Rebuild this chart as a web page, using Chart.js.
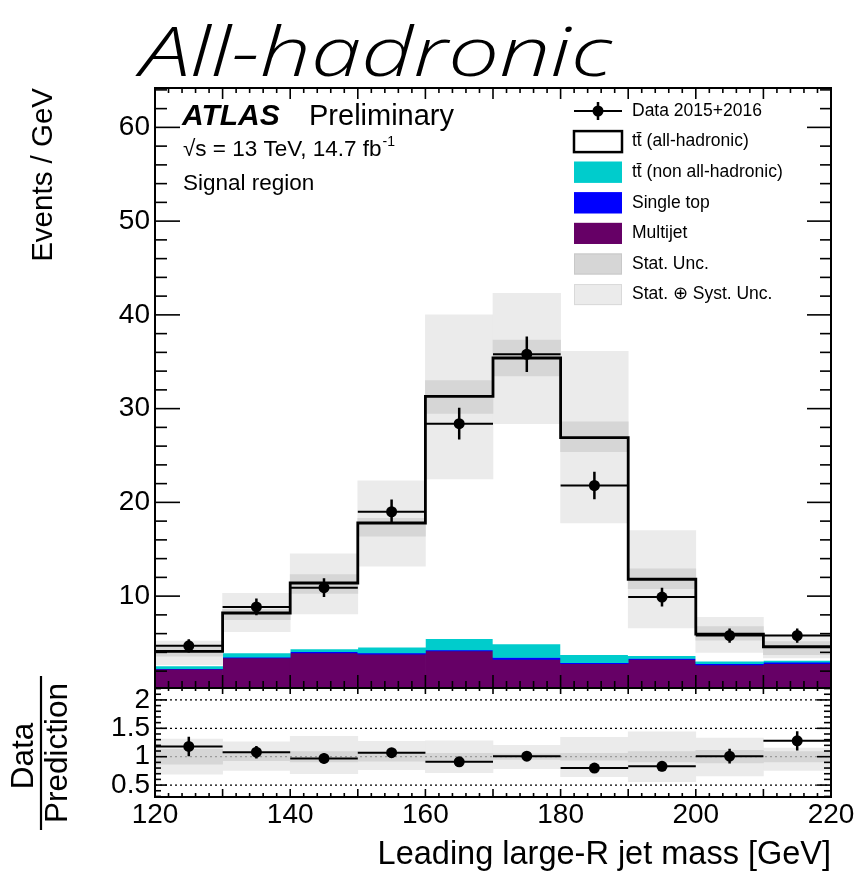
<!DOCTYPE html>
<html>
<head>
<meta charset="utf-8">
<script src="https://cdn.jsdelivr.net/npm/chart.js@4.4.1/dist/chart.umd.min.js"></script>
<style>
  html, body { margin: 0; padding: 0; background: #fff; }
  #wrap { position: relative; width: 862px; height: 879px; overflow: hidden; background: #fff; }
  canvas { position: absolute; left: 0; }
  #main { top: 0; }
  #ratio { top: 640px; }
</style>
</head>
<body>
<div id="wrap">
  <canvas id="main" width="862" height="700"></canvas>
  <canvas id="ratio" width="862" height="239"></canvas>
</div>
<script>
// Leading large-R jet mass, 10 GeV bins, Events / GeV
const binEdges = [120, 130, 140, 150, 160, 170, 180, 190, 200, 210, 220];

const multijet    = [2.2, 3.4, 3.95, 3.8, 4.15, 3.25, 2.8, 3.25, 2.65, 2.8];
const singleTop   = [0.06, 0.08, 0.12, 0.15, 0.12, 0.2, 0.1, 0.1, 0.15, 0.15];
const ttNonAllHad = [0.3, 0.45, 0.3, 0.6, 1.2, 1.45, 0.85, 0.3, 0.25, 0.2];
const ttAllHad    = [1.54, 4.27, 7.03, 13.25, 25.83, 30.5, 23.15, 8.15, 2.9, 1.45];

const dataValues = [4.7, 8.85, 10.9, 19.0, 28.4, 35.8, 21.8, 9.9, 5.8, 5.8];
const dataErrors = [0.7, 0.9, 1.0, 1.3, 1.7, 1.9, 1.47, 1.0, 0.76, 0.76];

const statLow  = [3.6, 7.5, 10.3, 16.4, 29.5, 33.5, 25.4, 10.8, 5.3, 3.75];
const statHigh = [4.6, 8.6, 12.3, 18.3, 33.0, 37.3, 28.6, 12.9, 6.75, 5.15];
const systLow  = [2.7, 6.2, 8.1, 13.2, 22.5, 28.4, 17.8, 6.6, 4.0, 3.4];
const systHigh = [5.2, 10.3, 14.5, 22.3, 40.0, 42.3, 36.1, 17.0, 7.75, 5.85];

// Data / Prediction panel
const ratioValues   = [1.18, 1.08, 0.97, 1.07, 0.91, 1.01, 0.80, 0.83, 1.01, 1.28];
const ratioErrors   = [0.17, 0.11, 0.09, 0.08, 0.055, 0.055, 0.055, 0.085, 0.13, 0.17];
const ratioSystLow  = [0.69, 0.76, 0.70, 0.77, 0.72, 0.79, 0.65, 0.56, 0.66, 0.76];
const ratioSystHigh = [1.31, 1.26, 1.36, 1.27, 1.28, 1.20, 1.34, 1.44, 1.33, 1.15];
const ratioStatLow  = [0.87, 0.93, 0.91, 0.92, 0.94, 0.95, 0.94, 0.91, 0.89, 0.91];
const ratioStatHigh = [1.13, 1.07, 1.09, 1.08, 1.06, 1.05, 1.06, 1.09, 1.11, 1.09];
const ratioRefLines = [0.5, 1, 1.5, 2];

// Axis ticks
const mainYTicks = [10, 20, 30, 40, 50, 60];
const ratioYTicks = [0.5, 1, 1.5, 2];
const ratioYTickLabels = ['0.5', '1', '1.5', '2'];
const xTicks = [120, 140, 160, 180, 200, 220];

const legendEntries = [
  'Data 2015+2016',
  'tt\u0304 (all-hadronic)',
  'tt\u0304 (non all-hadronic)',
  'Single top',
  'Multijet',
  'Stat. Unc.',
  'Stat. \u2295 Syst. Unc.'
];

const FONT = '"Liberation Sans", Arial, Helvetica, sans-serif';
const C_MULTIJET = '#660066';
const C_SINGLETOP = '#0000ff';
const C_TTNONALL = '#00cccc';
const C_STAT = '#d6d6d6';
const C_SYST = '#ebebeb';

const centers = binEdges.slice(0, -1).map((e, i) => (e + binEdges[i + 1]) / 2);

// cumulative stack boundaries
const stackLayers = [multijet, singleTop, ttNonAllHad, ttAllHad];
const stackTops = [];
const stackBottoms = [];
let running = centers.map(() => 0);
for (const layer of stackLayers) {
  stackBottoms.push(running.slice());
  running = running.map((v, i) => v + layer[i]);
  stackTops.push(running.slice());
}
const totalPrediction = running;

function floatBars(lo, hi) {
  return centers.map((c, i) => ({ x: c, y: [lo[i], hi[i]] }));
}
function stepOutline(values) {
  const pts = [];
  values.forEach((v, i) => { pts.push({ x: binEdges[i], y: v }); pts.push({ x: binEdges[i + 1], y: v }); });
  return pts;
}
function binBars(values) {
  const pts = [];
  values.forEach((v, i) => {
    pts.push({ x: binEdges[i], y: v }); pts.push({ x: binEdges[i + 1], y: v }); pts.push({ x: binEdges[i + 1], y: null });
  });
  return pts;
}
function errorBars(values, errs) {
  const pts = [];
  values.forEach((v, i) => {
    pts.push({ x: centers[i], y: v - errs[i] }); pts.push({ x: centers[i], y: v + errs[i] }); pts.push({ x: centers[i], y: null });
  });
  return pts;
}
function barSet(label, data, color, order) {
  return { type: 'bar', label, data, backgroundColor: color, borderWidth: 0, barPercentage: 1,
           categoryPercentage: 1, grouped: false, order };
}
function lineSet(label, data, color, width, order, extra) {
  return Object.assign({ type: 'line', label, data, borderColor: color, borderWidth: width, pointRadius: 0,
           tension: 0, fill: false, spanGaps: false, order, borderCapStyle: 'butt', borderJoinStyle: 'miter' }, extra || {});
}

// inward ROOT-style ticks
function drawTicks(ctx, scale, from, to, step, majorEvery, side, majorLen, minorLen, area) {
  const n = Math.round((to - from) / step);
  for (let k = 0; k <= n; k++) {
    const v = from + k * step;
    const isMajor = Math.abs(v / majorEvery - Math.round(v / majorEvery)) < 1e-6;
    const len = isMajor ? majorLen : minorLen;
    const p = scale.getPixelForValue(v);
    ctx.beginPath();
    if (side === 'left') { ctx.moveTo(area.left, p); ctx.lineTo(area.left + len, p); }
    if (side === 'right') { ctx.moveTo(area.right, p); ctx.lineTo(area.right - len, p); }
    if (side === 'bottom') { ctx.moveTo(p, area.bottom); ctx.lineTo(p, area.bottom - len); }
    if (side === 'top') { ctx.moveTo(p, area.top); ctx.lineTo(p, area.top + len); }
    ctx.stroke();
  }
}

// keep the plot area exactly where the layout padding puts it
function fixVertical(width) {
  return (s) => { s.width = width; s.paddingTop = 0; s.paddingBottom = 0; };
}

const mainDecor = {
  id: 'mainDecor',
  afterDraw(chart) {
    const { ctx, chartArea: a, scales: { x, y } } = chart;
    ctx.save();
    ctx.strokeStyle = '#000';
    ctx.lineWidth = 1.6;
    drawTicks(ctx, y, 2, 64, 2, 10, 'left', 25, 12, a);
    drawTicks(ctx, y, 2, 64, 2, 10, 'right', 24, 11, a);
    drawTicks(ctx, x, 120, 220, 2, 10, 'bottom', 13, 7, a);
    drawTicks(ctx, x, 120, 220, 2, 10, 'top', 11, 5, a);
    ctx.lineWidth = 2;
    ctx.strokeRect(a.left, a.top, a.right - a.left, a.bottom - a.top);

    // handwritten-style heading
    ctx.fillStyle = '#000';
    ctx.font = 'italic 300 68px "Open Sans", "DejaVu Sans", sans-serif';
    ctx.textBaseline = 'alphabetic';
    ctx.textAlign = 'left';
    const head = 'All-hadronic';
    const w = ctx.measureText(head).width;
    ctx.save();
    ctx.translate(140, 76);
    ctx.scale(472 / w, 1);
    ctx.fillText(head, 0, 0);
    ctx.restore();

    // experiment label
    ctx.font = 'italic bold 30px ' + FONT;
    ctx.fillText('ATLAS', 182, 125);
    ctx.font = '29px ' + FONT;
    ctx.fillText('Preliminary', 309, 125);
    ctx.font = '22.5px ' + FONT;
    const lumi = '\u221As = 13 TeV, 14.7 fb';
    ctx.fillText(lumi, 183, 156);
    const lw = ctx.measureText(lumi).width;
    ctx.font = '14px ' + FONT;
    ctx.fillText('-1', 183 + lw + 1, 146);
    ctx.font = '22.5px ' + FONT;
    ctx.fillText('Signal region', 183, 190);

    // legend
    const lx = 574, lwid = 48, lh = 21, tx = 632, y0 = 111, dy = 30.6;
    ctx.font = '17.5px ' + FONT;
    ctx.textBaseline = 'middle';
    const fills = [null, '#fff', C_TTNONALL, C_SINGLETOP, C_MULTIJET, C_STAT, C_SYST];
    const edges = [null, '#000', C_TTNONALL, C_SINGLETOP, C_MULTIJET, '#c8c8c8', '#d9d9d9'];
    legendEntries.forEach((txt, i) => {
      const cy = y0 + i * dy;
      ctx.fillStyle = '#000';
      ctx.fillText(txt, tx, cy);
      ctx.strokeStyle = '#000';
      if (i === 0) {
        ctx.lineWidth = 2;
        ctx.beginPath(); ctx.moveTo(lx, cy); ctx.lineTo(lx + lwid, cy); ctx.stroke();
        ctx.lineWidth = 2.5;
        ctx.beginPath(); ctx.moveTo(lx + lwid / 2, cy - 9); ctx.lineTo(lx + lwid / 2, cy + 9); ctx.stroke();
        ctx.beginPath(); ctx.arc(lx + lwid / 2, cy, 5.5, 0, Math.PI * 2); ctx.fill();
      } else if (i === 1) {
        ctx.fillStyle = fills[i];
        ctx.fillRect(lx, cy - lh / 2, lwid, lh);
        ctx.lineWidth = 2.5;
        ctx.strokeRect(lx, cy - lh / 2, lwid, lh);
      } else {
        ctx.fillStyle = fills[i];
        ctx.fillRect(lx, cy - lh / 2, lwid, lh);
        ctx.lineWidth = 1;
        ctx.strokeStyle = edges[i];
        ctx.strokeRect(lx + 0.5, cy - lh / 2 + 0.5, lwid - 1, lh - 1);
      }
    });
    ctx.restore();
  }
};

const ratioDecor = {
  id: 'ratioDecor',
  afterDraw(chart) {
    const { ctx, chartArea: a, scales: { x, y } } = chart;
    ctx.save();
    ctx.strokeStyle = '#000';
    ctx.lineWidth = 1.6;
    drawTicks(ctx, y, 0.3, 2.2, 0.1, 0.5, 'left', 12, 6, a);
    drawTicks(ctx, y, 0.3, 2.2, 0.1, 0.5, 'right', 14, 7, a);
    drawTicks(ctx, x, 120, 220, 2, 10, 'bottom', 8, 4, a);
    drawTicks(ctx, x, 120, 220, 2, 10, 'top', 6, 3, a);
    ctx.lineWidth = 2;
    ctx.strokeRect(a.left, a.top, a.right - a.left, a.bottom - a.top);

    // Data / Prediction fraction title
    ctx.fillStyle = '#000';
    ctx.font = '31.5px ' + FONT;
    ctx.textAlign = 'center';
    ctx.textBaseline = 'middle';
    ctx.save(); ctx.translate(24, 116); ctx.rotate(-Math.PI / 2); ctx.fillText('Data', 0, 0); ctx.restore();
    ctx.save(); ctx.translate(58, 113); ctx.rotate(-Math.PI / 2); ctx.fillText('Prediction', 0, 0); ctx.restore();
    ctx.lineWidth = 2.2;
    ctx.beginPath(); ctx.moveTo(41, 36); ctx.lineTo(41, 190); ctx.stroke();
    ctx.restore();
  }
};

Chart.defaults.font.family = FONT;
Chart.defaults.color = '#000';

const commonX = {
  type: 'linear', min: 120, max: 220, offset: false,
  grid: { display: false, drawTicks: false, offset: false }, border: { display: false }
};

new Chart(document.getElementById('main'), {
  type: 'bar',
  data: {
    datasets: [
      barSet('Multijet', floatBars(stackBottoms[0], stackTops[0]), C_MULTIJET, 9),
      barSet('Single top', floatBars(stackBottoms[1], stackTops[1]), C_SINGLETOP, 8),
      barSet('tt (non all-hadronic)', floatBars(stackBottoms[2], stackTops[2]), C_TTNONALL, 7),
      barSet('tt (all-hadronic)', floatBars(stackBottoms[3], stackTops[3]), '#ffffff', 6),
      barSet('Stat. + Syst. Unc.', floatBars(systLow, systHigh), C_SYST, 5),
      barSet('Stat. Unc.', floatBars(statLow, statHigh), C_STAT, 4),
      lineSet('Prediction', stepOutline(totalPrediction), '#000', 2.8, 3),
      lineSet('Data bin width', binBars(dataValues), '#000', 2, 2),
      lineSet('Data error', errorBars(dataValues, dataErrors), '#000', 2.5, 1),
      lineSet('Data 2015+2016', centers.map((c, i) => ({ x: c, y: dataValues[i] })), '#000', 0, 0,
        { showLine: false, pointRadius: 5.5, pointBackgroundColor: '#000', pointBorderWidth: 0 })
    ]
  },
  options: {
    responsive: false, animation: false,
    layout: { padding: { left: 0, right: 31, top: 88, bottom: 12 } },
    plugins: { legend: { display: false }, tooltip: { enabled: false } },
    scales: {
      x: Object.assign({}, commonX, { display: false }),
      y: {
        type: 'linear', min: 0.2, max: 64.2, stacked: false,
        grid: { display: false, drawTicks: false }, border: { display: false },
        afterBuildTicks: (s) => { s.ticks = mainYTicks.map(v => ({ value: v })); },
        afterFit: fixVertical(155),
        ticks: { font: { size: 28 }, padding: 5, autoSkip: false, callback: (v) => String(v) },
        title: { display: true, text: 'Events / GeV', align: 'end', font: { size: 29.5 }, padding: { top: 26, bottom: 0 } }
      }
    }
  },
  plugins: [mainDecor]
});

new Chart(document.getElementById('ratio'), {
  type: 'bar',
  data: {
    datasets: [
      barSet('Stat. + Syst. Unc.', floatBars(ratioSystLow, ratioSystHigh), C_SYST, 6),
      barSet('Stat. Unc.', floatBars(ratioStatLow, ratioStatHigh), C_STAT, 5),
      ...ratioRefLines.map(v => lineSet('ref ' + v, [{ x: 120, y: v }, { x: 220, y: v }],
        v === 1 ? '#9a9a9a' : '#000', 1.3, 3, { borderDash: [2, 3] })),
      lineSet('Ratio bin width', binBars(ratioValues), '#000', 2, 2),
      lineSet('Ratio error', errorBars(ratioValues, ratioErrors), '#000', 2.5, 1),
      lineSet('Data / Prediction', centers.map((c, i) => ({ x: c, y: ratioValues[i] })), '#000', 0, 0,
        { showLine: false, pointRadius: 5.5, pointBackgroundColor: '#000', pointBorderWidth: 0 })
    ]
  },
  options: {
    responsive: false, animation: false,
    layout: { padding: { left: 0, right: 31, top: 48, bottom: 0 } },
    plugins: { legend: { display: false }, tooltip: { enabled: false } },
    scales: {
      x: Object.assign({}, commonX, {
        display: true,
        afterBuildTicks: (s) => { s.ticks = xTicks.map(v => ({ value: v })); },
        afterFit: (s) => { s.height = 82; s.paddingLeft = 0; s.paddingRight = 0; },
        ticks: { font: { size: 28 }, padding: 1, autoSkip: false, maxRotation: 0, callback: (v) => String(v) },
        title: { display: true, text: 'Leading large-R jet mass [GeV]', align: 'end', font: { size: 32.5 }, padding: { top: 0, bottom: 4 } }
      }),
      y: {
        type: 'linear', min: 0.29, max: 2.21, stacked: false,
        grid: { display: false, drawTicks: false }, border: { display: false },
        afterBuildTicks: (s) => { s.ticks = ratioYTicks.map(v => ({ value: v })); },
        afterFit: fixVertical(155),
        ticks: { font: { size: 28 }, padding: 5, autoSkip: false, callback: (v) => ratioYTickLabels[ratioYTicks.indexOf(v)] }
      }
    }
  },
  plugins: [ratioDecor]
});
</script>
</body>
</html>
